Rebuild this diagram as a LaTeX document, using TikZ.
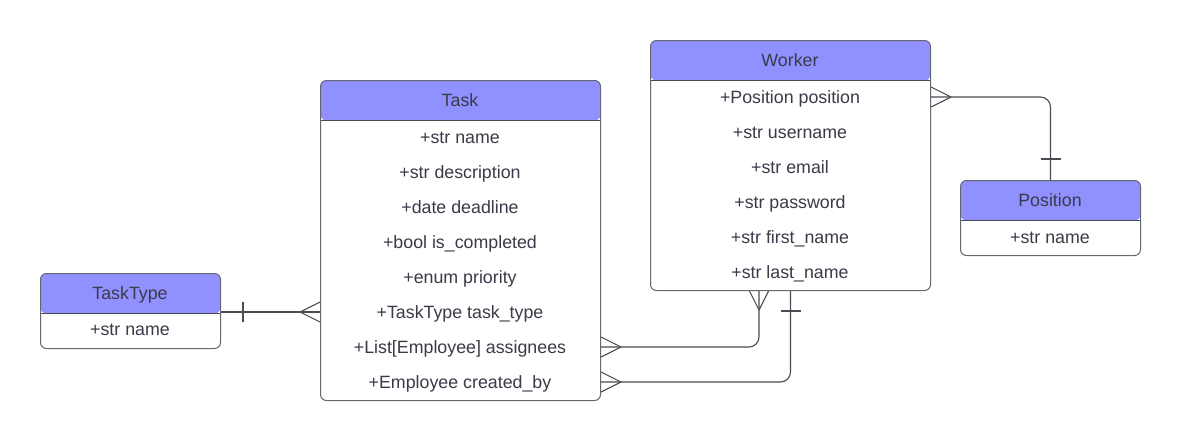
\documentclass[tikz,border=0pt]{standalone}
\usepackage{fontspec}
\setmainfont{Liberation Sans}
\usetikzlibrary{calc}
\definecolor{hdrc}{HTML}{9090FF}
\definecolor{bordc}{HTML}{666670}
\definecolor{txtc}{HTML}{3A3A48}
\definecolor{connc}{HTML}{4A4A52}
\begin{document}
\begin{tikzpicture}[x=1pt,y=-1pt,
  ent/.style={draw=bordc, fill=white, line width=1pt, rounded corners=6pt, inner sep=0pt, anchor=north west,
    path picture={\fill[hdrc] (path picture bounding box.north west) rectangle ([yshift=-40pt]path picture bounding box.north east);
      \draw[connc,line width=1pt] ([yshift=-40pt]path picture bounding box.north west) -- ([yshift=-40pt]path picture bounding box.north east);}},
  ttl/.style={font=\fontsize{17.8}{21}\selectfont, text=txtc, inner sep=0pt, text height=16.8pt, text depth=4pt},
  txt/.style={font=\fontsize{17.8}{21}\selectfont, text=txtc, inner sep=0pt, text height=16.8pt, text depth=4pt},
  conn/.style={draw=connc, line width=1.1pt},
  rconn/.style={conn, rounded corners=10pt}
]
\useasboundingbox (0,0) rectangle (1180,440);
% Task
\node[ent, minimum width=280pt, minimum height=320pt] (task) at (320,80) {};
\node[ttl] (taskt) at (460,100) {Task};
\node[txt] (r1) at (460,137) {+str name};
\node[txt] (r2) at (460,172) {+str description};
\node[txt] (r3) at (460,207) {+date deadline};
\node[txt] (r4) at (460,242) {+bool is\_completed};
\node[txt] (r5) at (460,277) {+enum priority};
\node[txt] (r6) at (460,312) {+TaskType task\_type};
\node[txt] (r7) at (460,347) {+List[Employee] assignees};
\node[txt] (r8) at (460,382) {+Employee created\_by};
% Worker
\node[ent, minimum width=280pt, minimum height=250pt] (worker) at (650,40) {};
\node[ttl] (workert) at (790,60) {Worker};
\node[txt] (w1) at (790,97) {+Position position};
\node[txt] (w2) at (790,132) {+str username};
\node[txt] (w3) at (790,167) {+str email};
\node[txt] (w4) at (790,202) {+str password};
\node[txt] (w5) at (790,237) {+str first\_name};
\node[txt] (w6) at (790,272) {+str last\_name};
% Position
\node[ent, minimum width=180pt, minimum height=75pt] (position) at (960,180) {};
\node[ttl] (positiont) at (1050,200) {Position};
\node[txt] (p1) at (1050,237) {+str name};
% TaskType
\node[ent, minimum width=180pt, minimum height=75pt] (tasktype) at (40,273) {};
\node[ttl] (tasktypet) at (130,293) {TaskType};
\node[txt] (tt1) at (130,329) {+str name};
% TaskType -- Task
\draw[conn] (tasktype.east |- r6) -- (task.west |- r6);
\draw[conn] ($(tasktype.east |- r6)+(22,-10)$) -- ++(0,20);
\draw[conn] ($(task.west |- r6)+(-20,0)$) -- ++(20,-10);
\draw[conn] ($(task.west |- r6)+(-20,0)$) -- ++(20,10);
% Task assignees -- Worker
\draw[rconn] (task.east |- r7) -| ($(worker.south)+(-31.5,0)$);
\draw[conn] ($(task.east |- r7)+(20,0)$) -- ++(-20,-10);
\draw[conn] ($(task.east |- r7)+(20,0)$) -- ++(-20,10);
\draw[conn] ($(worker.south)+(-31.5,19)$) -- ++(-9.5,-19);
\draw[conn] ($(worker.south)+(-31.5,19)$) -- ++(9.5,-19);
% Task created_by -- Worker
\draw[rconn] (task.east |- r8) -| (worker.south);
\draw[conn] ($(task.east |- r8)+(20,0)$) -- ++(-20,-10);
\draw[conn] ($(task.east |- r8)+(20,0)$) -- ++(-20,10);
\draw[conn] ($(worker.south)+(-10,20)$) -- ++(20,0);
% Worker -- Position
\draw[rconn] (worker.east |- w1) -| (position.north);
\draw[conn] ($(worker.east |- w1)+(20,0)$) -- ++(-20,-10);
\draw[conn] ($(worker.east |- w1)+(20,0)$) -- ++(-20,10);
\draw[conn] ($(position.north)+(-10,-21)$) -- ++(20,0);
\end{tikzpicture}
\end{document}
